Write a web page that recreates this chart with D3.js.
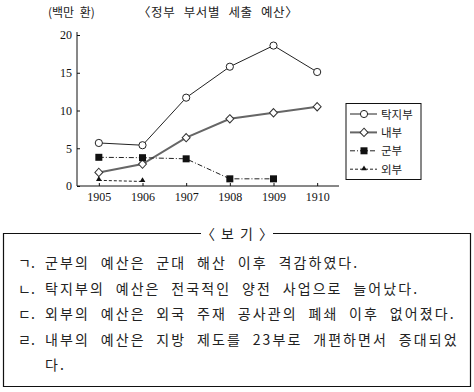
<!DOCTYPE html>
<html>
<head>
<meta charset="utf-8">
<script src="https://cdn.jsdelivr.net/npm/d3@7"></script>
<style>
  body { margin: 0; background: #fff; }
  svg { display: block; }
</style>
</head>
<body>
<div id="chart"></div>
<script>
// 정부 부서별 세출 예산 (백만 환)
let years = [1905, 1906, 1907, 1908, 1909, 1910]
let takji = [5.7, 5.4, 11.7, 15.8, 18.6, 15.1]
let naebu = [1.8, 2.9, 6.4, 8.9, 9.7, 10.5]
let gunbu = [3.8, 3.75, 3.6, 0.95, 0.95]
let oebu = [0.75, 0.6]
let yTicks = [0, 5, 10, 15, 20]
let seriesNames = ['탁지부', '내부', '군부', '외부']
let bogiLines = [
  ['ㄱ.', '군부의 예산은 군대 해산 이후 격감하였다.'],
  ['ㄴ.', '탁지부의 예산은 전국적인 양전 사업으로 늘어났다.'],
  ['ㄷ.', '외부의 예산은 외국 주재 공사관의 폐쇄 이후 없어졌다.'],
  ['ㄹ.', '내부의 예산은 지방 제도를 23부로 개편하면서 증대되었'],
  ['', '다.']
]

let W = 474, H = 392
let svg = d3.select('#chart').append('svg')
  .attr('width', W).attr('height', H)

let korFont = '"Noto Sans CJK KR", "Noto Sans", sans-serif'
let numFont = '"Liberation Serif", "DejaVu Serif", serif'

let x = d3.scaleLinear().domain([1904.5, 1910.5]).range([77, 339])
let y = d3.scaleLinear().domain([0, 20]).range([186, 35])

// titles
svg.append('text').attr('x', 48).attr('y', 17)
  .attr('font-family', korFont).attr('font-size', 12).attr('fill', '#222')
  .attr('word-spacing', 3)
  .text('(백만 환)')
svg.append('text').attr('x', 138).attr('y', 17)
  .attr('font-family', korFont).attr('font-size', 12.5).attr('fill', '#222')
  .attr('letter-spacing', 0.6).attr('word-spacing', 5)
  .text('〈정부 부서별 세출 예산〉')

// axes
let xAxis = svg.append('g').attr('transform', 'translate(0,186)')
  .call(d3.axisBottom(x).tickValues(years).tickFormat(d3.format('d')).tickSizeInner(-3).tickSizeOuter(0).tickPadding(6))
let yAxis = svg.append('g').attr('transform', 'translate(77,0)')
  .call(d3.axisLeft(y).tickValues(yTicks).tickSizeInner(-3).tickSizeOuter(0).tickPadding(5))
;[xAxis, yAxis].forEach(a => {
  a.select('.domain').attr('stroke', '#111').attr('stroke-width', 1)
  a.selectAll('.tick line').attr('stroke', '#111')
  a.selectAll('text').attr('font-family', numFont).attr('font-size', 12).attr('fill', '#111')
})
xAxis.select('.domain').attr('d', 'M77,0H339')
yAxis.select('.domain').attr('d', 'M0,186V32')

let line = d3.line().x((d, i) => x(years[i])).y(d => y(d))

let styles = [
  {data: takji, stroke: '#222', width: 1, dash: null, marker: 'circle'},
  {data: naebu, stroke: '#666', width: 2, dash: null, marker: 'diamond'},
  {data: gunbu, stroke: '#222', width: 1, dash: '5,2,1,2', marker: 'square'},
  {data: oebu, stroke: '#222', width: 1, dash: '3,2', marker: 'triangle'}
]

function drawMarker(g, type, cx, cy) {
  if (type === 'circle') {
    g.append('circle').attr('cx', cx).attr('cy', cy).attr('r', 3.6)
      .attr('fill', '#fff').attr('stroke', '#222').attr('stroke-width', 1)
  } else if (type === 'diamond') {
    g.append('path').attr('d', d3.symbol(d3.symbolDiamond2, 40)())
      .attr('transform', `translate(${cx},${cy}) scale(1,1.05)`)
      .attr('fill', '#fff').attr('stroke', '#333').attr('stroke-width', 1)
  } else if (type === 'square') {
    g.append('rect').attr('x', cx - 3.5).attr('y', cy - 3.5).attr('width', 7).attr('height', 7)
      .attr('fill', '#111')
  } else {
    g.append('path').attr('d', d3.symbol(d3.symbolTriangle, 14)())
      .attr('transform', `translate(${cx},${cy - 1})`).attr('fill', '#111')
  }
}

styles.forEach(s => {
  svg.append('path').datum(s.data).attr('d', line)
    .attr('fill', 'none').attr('stroke', s.stroke).attr('stroke-width', s.width)
    .attr('stroke-dasharray', s.dash)
  let g = svg.append('g')
  s.data.forEach((v, i) => drawMarker(g, s.marker, x(years[i]), y(v)))
})

// legend
let lg = svg.append('g')
lg.append('rect').attr('x', 346).attr('y', 103.5).attr('width', 75).attr('height', 76)
  .attr('fill', '#fff').attr('stroke', '#111').attr('stroke-width', 1)
styles.forEach((s, i) => {
  let cy = 114 + i * 18.4
  lg.append('line').attr('x1', 350).attr('x2', 377).attr('y1', cy).attr('y2', cy)
    .attr('stroke', s.stroke).attr('stroke-width', s.width).attr('stroke-dasharray', s.dash)
  drawMarker(lg, s.marker, 364, cy + (s.marker === 'triangle' ? 0.5 : 0))
  lg.append('text').attr('x', 381).attr('y', cy + 4.5)
    .attr('font-family', korFont).attr('font-size', 11.5).attr('fill', '#222')
    .text(seriesNames[i])
})

// 보기 box
let bx = svg.append('g')
bx.append('path')
  .attr('d', 'M201,233.5H3.5V386.5H470.5V233.5H273')
  .attr('fill', 'none').attr('stroke', '#111').attr('stroke-width', 1.2)
bx.append('text').attr('x', 237).attr('y', 238.5).attr('text-anchor', 'middle')
  .attr('font-family', korFont).attr('font-size', 14).attr('fill', '#222')
  .attr('word-spacing', 3)
  .text('〈 보 기 〉')

bogiLines.forEach((ln, i) => {
  let by = 268 + i * 25.6
  bx.append('text').attr('x', 18).attr('y', by)
    .attr('font-family', korFont).attr('font-size', 14).attr('fill', '#222')
    .text(ln[0])
  bx.append('text').attr('x', 45).attr('y', by)
    .attr('font-family', korFont).attr('font-size', 14).attr('fill', '#222')
    .attr('letter-spacing', 2.1).attr('word-spacing', 5.5)
    .text(ln[1])
})
</script>
</body>
</html>
